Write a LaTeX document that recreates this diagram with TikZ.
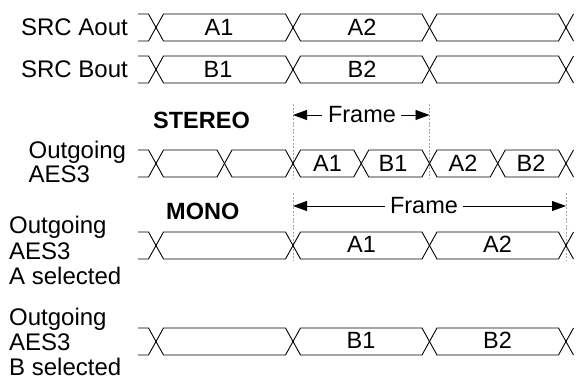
\documentclass[tikz,border=0pt]{standalone}
\usepackage{fontspec}
\setmainfont{Liberation Sans}
\usetikzlibrary{arrows.meta}
\tikzset{
  wave/.style={draw=black, line width=0.9pt, line join=miter},
  lbl/.style={font=\fontsize{24}{25}\selectfont, inner sep=0pt, anchor=base west},
  lblr/.style={font=\fontsize{24}{25}\selectfont, inner sep=0pt, anchor=base east},
  hdr/.style={font=\fontsize{23.5}{25}\selectfont\bfseries, inner sep=0pt, anchor=base west},
  datatxt/.style={font=\fontsize{23.5}{25}\selectfont, inner sep=0pt},
  guide/.style={draw=gray!70, line width=0.6pt, dash pattern=on 2pt off 1.5pt},
  framearrow/.style={line width=0.9pt, -{Triangle[length=14pt,width=10pt]}},
}
\newcommand\hwid{7.5}
% top, bottom, first crossing, pairs, last crossing
\newcommand\busrow[5]{%
  \pgfmathsetmacro\bmid{(#1+#2)/2}
  \draw[wave] (138,#1) -- (#3-\hwid,#1) -- (#3,\bmid) -- (#3-\hwid,#2) -- (138,#2);
  \foreach \a/\b in {#4}{%
    \draw[wave] (\a,\bmid) -- (\a+\hwid,#1) -- (\b-\hwid,#1) -- (\b,\bmid) -- (\b-\hwid,#2) -- (\a+\hwid,#2) -- cycle;}
  \draw[wave] (#5+\hwid,#1) -- (#5,\bmid) -- (#5+\hwid,#2);
}
\begin{document}
\begin{tikzpicture}[x=1pt,y=-1pt]
\useasboundingbox (0,0) rectangle (582,380);

% SRC rows
\busrow{14}{41}{156}{156/293,293/429.5,429.5/566}{566}
\busrow{56}{83}{156}{156/293,293/429.5,429.5/566}{566}
\node[lblr] (srcA) at (128,35.8) {SRC Aout};
\node[lblr] (srcB) at (128,77.5) {SRC Bout};
\node[datatxt] (a1) at (219,27.5) {A1};
\node[datatxt] (a2) at (362,27.5) {A2};
\node[datatxt] (b1) at (218,69.5) {B1};
\node[datatxt] (b2) at (362,69.5) {B2};

% Stereo
\node[hdr] (stereo) at (153,128) {STEREO};
\node[lbl] (st1) at (28.5,158) {Outgoing};
\node[lbl] (st2) at (28.5,182) {AES3};
\draw[guide] (293,104) -- (293,178);
\draw[guide] (429.5,104) -- (429.5,178);
\busrow{150}{177}{156}{156/224.5,224.5/293,293/361.25,361.25/429.5,429.5/497.75,497.75/566}{566}
\node[datatxt] (sa1) at (327.5,163.5) {A1};
\node[datatxt] (sb1) at (393,163.5) {B1};
\node[datatxt] (sa2) at (463,163.5) {A2};
\node[datatxt] (sb2) at (531,163.5) {B2};
\node[datatxt] (f1) at (362,115) {Frame};
\coordinate (f1l) at (293,115);
\coordinate (f1r) at (429.5,115);
\draw[framearrow] ([xshift=-6pt]f1.west) -- (f1l);
\draw[framearrow] ([xshift=5pt]f1.east) -- (f1r);

% Mono
\node[hdr] (mono) at (166,219) {MONO};
\node[lbl] (m1) at (9,233) {Outgoing};
\node[lbl] (m2) at (9,259) {AES3};
\node[lbl] (m3) at (9,284) {A selected};
\draw[guide] (293,193) -- (293,260);
\draw[guide] (566,193) -- (566,260);
\busrow{232}{259}{156}{156/293,293/429.5,429.5/566}{566}
\node[datatxt] (ma1) at (361.5,244.5) {A1};
\node[datatxt] (ma2) at (497.5,244.5) {A2};
\node[datatxt] (f2) at (424,206) {Frame};
\coordinate (f2l) at (293,206);
\coordinate (f2r) at (566,206);
\draw[framearrow] ([xshift=-5pt]f2.west) -- (f2l);
\draw[framearrow] ([xshift=5pt]f2.east) -- (f2r);

% B selected
\node[lbl] (n1) at (9,325) {Outgoing};
\node[lbl] (n2) at (9,350) {AES3};
\node[lbl] (n3) at (9,375) {B selected};
\busrow{328}{355}{156}{156/293,293/429.5,429.5/566}{566}
\node[datatxt] (nb1) at (361,340.5) {B1};
\node[datatxt] (nb2) at (497.5,340.5) {B2};
\end{tikzpicture}
\end{document}
